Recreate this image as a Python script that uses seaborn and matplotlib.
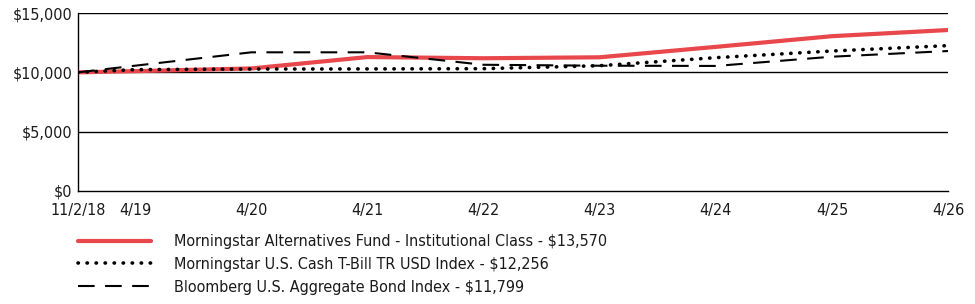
import pandas as pd
import seaborn as sns
import matplotlib.pyplot as plt
from matplotlib.ticker import FuncFormatter

# growth of $10,000
dates = ["2018-11-02", "2019-04-30", "2020-04-30", "2021-04-30", "2022-04-30",
         "2023-04-30", "2024-04-30", "2025-04-30", "2026-04-30"]
fund = [10000, 10100, 10330, 11290, 11190, 11270, 12150, 13050, 13570]
tbill = [10000, 10230, 10280, 10290, 10310, 10560, 11240, 11800, 12256]
bond = [10000, 10560, 11690, 11690, 10640, 10560, 10540, 11320, 11799]

tick_dates = ["2018-11-02", "2019-04-30", "2020-04-30", "2021-04-30", "2022-04-30",
              "2023-04-30", "2024-04-30", "2025-04-30", "2026-04-30"]
tick_labels = ["11/2/18", "4/19", "4/20", "4/21", "4/22", "4/23", "4/24", "4/25", "4/26"]

labels = ["Morningstar Alternatives Fund - Institutional Class - $13,570",
          "Morningstar U.S. Cash T-Bill TR USD Index - $12,256",
          "Bloomberg U.S. Aggregate Bond Index - $11,799"]

sns.set_style("white")
plt.rcParams['font.family'] = ['DejaVu Sans']
plt.rcParams['font.stretch'] = 'condensed'
plt.rcParams['text.color'] = '#1a1a1a'
plt.rcParams['xtick.labelcolor'] = '#1a1a1a'
plt.rcParams['ytick.labelcolor'] = '#1a1a1a'

df = pd.DataFrame({"date": pd.to_datetime(dates), "fund": fund, "tbill": tbill, "bond": bond})

fig = plt.figure(figsize=(9.75, 3.04), dpi=100)
ax = fig.add_axes([0.08, 0.372, 0.8923, 0.585])

# gridlines first so the series sit on top
for v in [5000, 10000, 15000]:
    ax.axhline(v, color="black", lw=1, zorder=1)

sns.lineplot(data=df, x="date", y="fund", ax=ax, color="#e8474c", lw=3.0,
             label=labels[0], zorder=3)
sns.lineplot(data=df, x="date", y="tbill", ax=ax, color="black", lw=2.6,
             linestyle=(0, (0.1, 2.4)), dash_capstyle="round", label=labels[1], zorder=4)
sns.lineplot(data=df, x="date", y="bond", ax=ax, color="black", lw=1.5,
             linestyle=(0, (8, 5)), label=labels[2], zorder=4)

ax.set_xlim(pd.Timestamp(dates[0]), pd.Timestamp(dates[-1]))
ax.set_ylim(0, 15000)
ax.set_xticks(pd.to_datetime(tick_dates))
ax.set_xticklabels(tick_labels)
ax.set_yticks([0, 5000, 10000, 15000])
ax.yaxis.set_major_formatter(FuncFormatter(lambda v, p: "${:,.0f}".format(v)))
ax.set_xlabel("")
ax.set_ylabel("")

for s in ["top", "right"]:
    ax.spines[s].set_visible(False)
for s in ["left", "bottom"]:
    ax.spines[s].set_color("black")
    ax.spines[s].set_linewidth(1)

ax.tick_params(axis="x", direction="out", length=7, width=1, color="black",
               labelsize=11.5, pad=2)
ax.tick_params(axis="y", direction="out", length=3, width=1, color="black",
               labelsize=11.5, pad=1)

ax.get_legend().remove()
handles, _ = ax.get_legend_handles_labels()
fig.legend(handles, labels, loc="upper left", bbox_to_anchor=(0.08, 0.229),
           frameon=False, fontsize=11.5, handlelength=4.6, handletextpad=1.4,
           labelspacing=0.48, borderaxespad=0, borderpad=0)

fig.savefig("out.png", dpi=100)
